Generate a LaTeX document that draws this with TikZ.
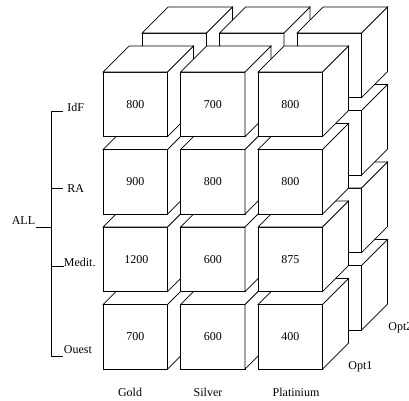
\documentclass[tikz,border=0pt]{standalone}
\usepackage{fontspec}
\setmainfont{Liberation Serif}
\begin{document}
\begin{tikzpicture}[x=1pt,y=-1pt,line width=0.7pt,
  lbl/.style={font=\fontsize{12}{14}\selectfont,inner sep=0pt},
  facestyle/.style={draw=black,fill=white,line join=miter},
  cube/.pic={
    \path[facestyle] (0,0) rectangle (64.5,64.5);
    \path[facestyle] (0,0) -- (26,-26) -- (90.5,-26) -- (64.5,0) -- cycle;
    \path[facestyle] (64.5,0) -- (90.5,-26) -- (90.5,38.5) -- (64.5,64.5) -- cycle;
  }]
\clip (0,0) rectangle (409,400);
\path[use as bounding box] (0,0) rectangle (409,400);
% back layer (Opt2)
\foreach \r in {3,2,1,0}{
  \foreach \c in {0,1,2}{
    \pic at ({142+77.5*\c},{33+77.5*\r}) {cube};
  }
}
% front layer (Opt1)
\foreach \r in {3,2,1,0}{
  \foreach \c in {0,1,2}{
    \pic at ({103+77.5*\c},{72+77.5*\r}) {cube};
  }
}
% values
\node[lbl] (v11) at (135.25,104.25) {800};
\node[lbl] (v12) at (212.75,104.25) {700};
\node[lbl] (v13) at (290.25,104.25) {800};
\node[lbl] (v21) at (135.25,181.75) {900};
\node[lbl] (v22) at (212.75,181.75) {800};
\node[lbl] (v23) at (290.25,181.75) {800};
\node[lbl] (v31) at (136.25,259.25) {1200};
\node[lbl] (v32) at (212.75,259.25) {600};
\node[lbl] (v33) at (290.25,259.25) {875};
\node[lbl] (v41) at (135.25,336.75) {700};
\node[lbl] (v42) at (212.75,336.75) {600};
\node[lbl] (v43) at (290.25,336.75) {400};
% row tree
\node[lbl,anchor=base west] (idf) at (67,111) {IdF};
\node[lbl,anchor=base west] (ra) at (67,192) {RA};
\node[lbl,anchor=base west] (med) at (63.5,266) {Medit.};
\node[lbl,anchor=base west] (oue) at (63.5,353) {Ouest};
\node[lbl,anchor=base east] (all) at (35.5,224) {ALL};
\coordinate (ttop) at (51,111);
\coordinate (tbot) at (51,356.5);
\coordinate (tall) at (51,227);
\coordinate (tra) at (51,188);
\coordinate (tmed) at (51,266);
\draw (63,111) -- (ttop) -- (tbot) -- (63,356.5);
\draw (tra) -- (63,188);
\draw (tmed) -- (63.5,266);
\draw (all.base east) ++(0,3) -- (tall);
% column labels
\node[lbl,anchor=base] (gold) at (130,396) {Gold};
\node[lbl,anchor=base] (silver) at (208,396) {Silver};
\node[lbl,anchor=base] (plat) at (296,396) {Platinium};
\node[lbl,anchor=base west] (opt1) at (348,369) {Opt1};
\node[lbl,anchor=base west] (opt2) at (388,330) {Opt2};
\end{tikzpicture}
\end{document}
